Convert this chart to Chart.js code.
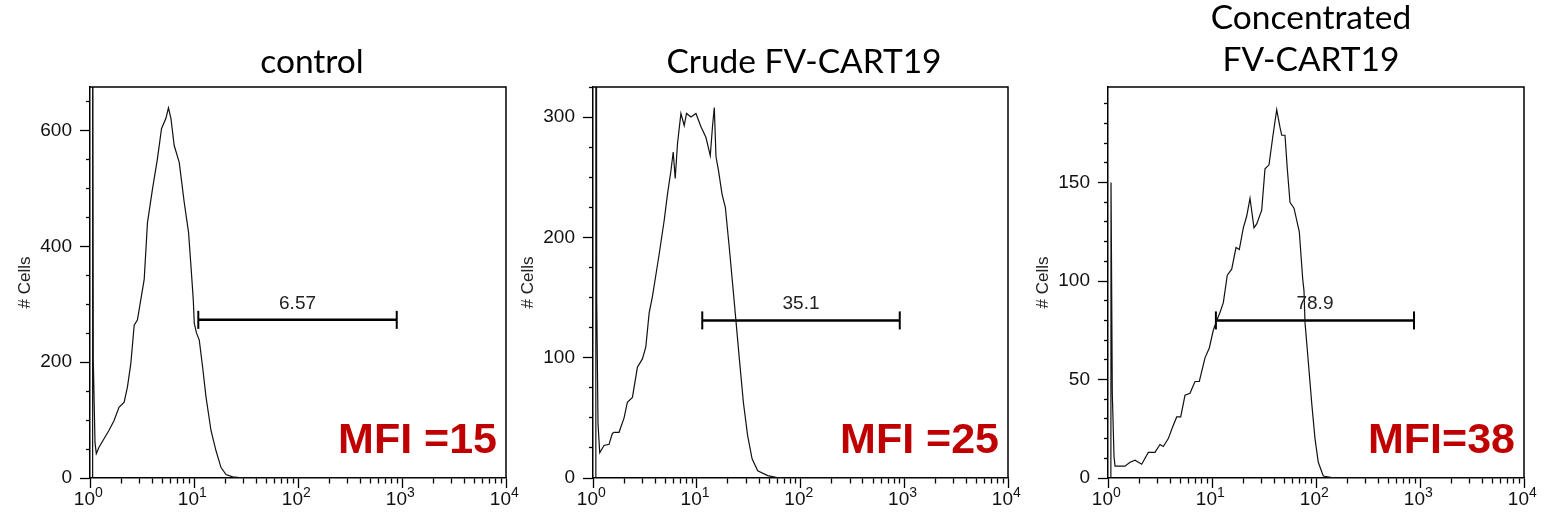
<!DOCTYPE html>
<html><head><meta charset="utf-8">
<script src="https://cdn.jsdelivr.net/npm/chart.js@4.4.0/dist/chart.umd.min.js"></script>
<style>
html,body{margin:0;padding:0;background:#fff;width:1544px;height:524px;overflow:hidden;position:relative;}
canvas{position:absolute;top:0;}
.title{position:absolute;width:500px;text-align:center;font-family:Lato,'Open Sans',sans-serif;font-size:33.5px;color:#000;line-height:42px;white-space:nowrap;}
</style></head><body>
<script>
// ---------- DATA ----------
const panelTitles = [['control'], ['Crude FV-CART19'], ['Concentrated', 'FV-CART19']];

const ctrlX = [1.06, 1.06, 1.076, 1.117, 1.15, 1.22, 1.52, 1.70, 1.90, 2.13, 2.29, 2.47, 2.66, 2.86, 3.08, 3.32, 3.57, 3.99, 4.45, 4.87, 5.37, 5.68, 6.00, 6.45, 7.21, 8.05, 8.86, 9.35, 9.84, 10.06, 10.58, 11.24, 12.09, 13.04, 14.57, 16.28, 18.19, 20.32, 23.53, 30.5, 10000];
const ctrlY = [0, 1000, 203, 61, 42, 53, 82, 99, 122, 131, 157, 198, 264, 273, 308, 343, 441, 499, 551, 603, 621, 639, 621, 574, 545, 476, 424, 366, 308, 267, 250, 238, 192, 140, 82, 47, 18, 6, 2, 0, 0];

const crudeX = [1.065, 1.065, 1.086, 1.118, 1.161, 1.277, 1.428, 1.536, 1.596, 1.783, 1.993, 2.145, 2.398, 2.679, 2.995, 3.229, 3.476, 3.741, 3.972, 4.341, 4.853, 5.224, 5.631, 5.930, 6.199, 6.525, 7.036, 7.572, 7.969, 8.790, 9.824, 10.98, 12.27, 13.50, 14.21, 14.76, 15.33, 16.24, 17.52, 18.86, 20.61, 22.18, 23.91, 25.74, 28.14, 30.96, 34.15, 38.68, 48.32, 62.7, 10000];
const crudeY = [0, 1000, 147, 45, 21, 27, 28, 37, 38, 38, 50, 63, 67, 92, 99, 109, 137, 151, 165, 186, 214, 236, 255, 271, 249, 278, 303, 293, 303, 300, 303, 292, 283, 268, 293, 308, 267, 255, 236, 225, 191, 161, 130, 99, 63, 35, 16, 6, 2, 0, 0];

const concX = [1.066, 1.069, 1.10, 1.142, 1.168, 1.457, 1.627, 1.818, 2.109, 2.441, 2.831, 3.162, 3.402, 3.800, 4.190, 4.577, 5.000, 5.500, 6.143, 6.863, 7.548, 8.564, 9.419, 10.29, 11.10, 11.94, 12.85, 14.03, 15.47, 17.02, 18.30, 20.00, 21.57, 23.20, 25.34, 26.91, 30.06, 32.33, 35.33, 38.35, 41.90, 45.08, 46.81, 50.33, 52.97, 56.23, 61.45, 69.10, 74.49, 76.67, 78.39, 84.33, 90.94, 97.81, 105.2, 117.5, 152, 10000];
const concY = [0, 150, 43, 11, 6, 6, 8, 9, 7, 13, 13, 17, 16, 20, 26, 31, 31, 42, 43, 49, 49, 61, 66, 75, 80, 84, 89, 103, 106, 117, 116, 127, 133, 142, 127, 129, 136, 157, 159, 173, 187, 178, 174, 174, 157, 140, 137, 125, 101, 95, 79, 59, 38, 20, 8, 1, 0, 0];

const gateRanges = [[11, 890], [11.3, 905], [10.9, 876]];
const gateHeights = [273, 131, 80];
const gateLabels = ['6.57', '35.1', '78.9'];
const mfiLabels = ['MFI =15', 'MFI =25', 'MFI=38'];

const xMajorTicks = [1, 10, 100, 1000, 10000];
const xTickBases = ['10', '10', '10', '10', '10'];
const xTickExponents = ['0', '1', '2', '3', '4'];
const yMaxes = [675, 325, 198.5];
const yMinorSteps = [50, 25, 10];
const yLabelSteps = [200, 100, 50];
const yTitle = '# Cells';

// ---------- LAYOUT / STYLE ----------
const panelLayout = [
  {left: 0, plotW: 416, titleX: 312},
  {left: 503, plotW: 415, titleX: 804},
  {left: 1018, plotW: 416, titleX: 1311}
];
const curves = [[ctrlX, ctrlY], [crudeX, crudeY], [concX, concY]];
const FONT = "'Liberation Sans', Arial, sans-serif";

// x tick positions: 1..9 per decade + 10^4
const xTickValues = [];
for (let d = 0; d < 4; d++) for (let m = 1; m <= 9; m++) xTickValues.push(m * xMajorTicks[d]);
xTickValues.push(xMajorTicks[4]);

Chart.defaults.font.family = FONT;

const annot = {
  id: 'annot',
  afterDatasetsDraw(chart, args, opts) {
    const {ctx, chartArea: a, scales} = chart;
    const x = scales.x, y = scales.y;
    ctx.save();
    // top / right frame
    ctx.strokeStyle = '#000'; ctx.lineWidth = 1.5;
    ctx.beginPath(); ctx.moveTo(a.left, a.top); ctx.lineTo(a.right, a.top); ctx.lineTo(a.right, a.bottom); ctx.stroke();
    // gate label
    const x0 = x.getPixelForValue(opts.gate[0]), x1 = x.getPixelForValue(opts.gate[1]);
    const yy = y.getPixelForValue(opts.gateY);
    ctx.fillStyle = '#222'; ctx.font = '19px ' + FONT;
    ctx.textAlign = 'center'; ctx.textBaseline = 'alphabetic';
    ctx.fillText(opts.gateLabel, (x0 + x1) / 2, yy - 11);
    // MFI
    ctx.fillStyle = '#C00000'; ctx.font = 'bold 43px ' + FONT;
    ctx.textAlign = 'right';
    ctx.fillText(opts.mfi, a.right - 9, a.bottom - 25);
    // x tick labels with superscript exponents
    ctx.fillStyle = '#111';
    xMajorTicks.forEach((v, k) => {
      const px = x.getPixelForValue(v);
      ctx.font = '19px ' + FONT; ctx.textAlign = 'right';
      ctx.fillText(xTickBases[k], px + 5, a.bottom + 27);
      ctx.font = '14px ' + FONT; ctx.textAlign = 'left';
      ctx.fillText(xTickExponents[k], px + 5, a.bottom + 19);
    });
    ctx.restore();
  }
};

panelLayout.forEach((L, i) => {
  const W = 90 + L.plotW + 24;
  const cv = document.createElement('canvas');
  cv.width = W; cv.height = 524;
  cv.style.left = L.left + 'px'; cv.style.width = W + 'px'; cv.style.height = '524px';
  document.body.appendChild(cv);

  const t = document.createElement('div');
  t.className = 'title';
  t.style.left = (L.titleX - 250) + 'px';
  t.style.top = (panelTitles[i].length > 1 ? -5 : 39) + 'px';
  t.innerHTML = panelTitles[i].map(s => s.replace(/&/g, '&amp;').replace(/</g, '&lt;')).join('<br>');
  document.body.appendChild(t);

  const [xs, ys] = curves[i];
  const labelStep = yLabelSteps[i];
  new Chart(cv, {
    type: 'line',
    data: {
      datasets: [
        {data: xs.map((v, k) => ({x: v, y: ys[k]})), borderColor: '#111', borderWidth: 1.2, pointRadius: 0, tension: 0, fill: false},
        {data: gateRanges[i].map(v => ({x: v, y: gateHeights[i]})), borderColor: '#000', borderWidth: 2.5,
         pointStyle: 'line', pointRadius: 9, pointRotation: 90, pointBorderWidth: 2, pointBorderColor: '#000', pointBackgroundColor: '#000'}
      ]
    },
    options: {
      responsive: false, animation: false, devicePixelRatio: 1,
      layout: {padding: {left: 0, right: 24, top: 87, bottom: 0}},
      plugins: {legend: {display: false}, tooltip: {enabled: false},
        annot: {gate: gateRanges[i], gateY: gateHeights[i], gateLabel: gateLabels[i], mfi: mfiLabels[i]}},
      scales: {
        x: {
          type: 'logarithmic', min: 1, max: 10000, position: 'bottom',
          afterBuildTicks(s) { s.ticks = xTickValues.map(v => ({value: v, major: xMajorTicks.includes(v)})); },
          afterFit(s) { s.height = 46; },
          border: {display: true, color: '#000', width: 1.5},
          grid: {drawOnChartArea: false, drawTicks: true, tickLength: 10, tickColor: '#000', tickWidth: 1.3,
                 tickBorderDash: [10, 100],
                 tickBorderDashOffset: c => (c.tick && xMajorTicks.includes(c.tick.value)) ? 0 : 5},
          ticks: {display: false, autoSkip: false, maxRotation: 0, minRotation: 0}
        },
        y: {
          type: 'linear', min: 0, max: yMaxes[i], position: 'left',
          afterFit(s) { s.width = 90; },
          border: {display: true, color: '#000', width: 1.5},
          grid: {drawOnChartArea: false, drawTicks: true, tickLength: 10, tickColor: '#000', tickWidth: 1.3,
                 tickBorderDash: [10, 100],
                 tickBorderDashOffset: c => (c.tick && c.tick.value % labelStep === 0) ? 0 : -6},
          ticks: {stepSize: yMinorSteps[i], includeBounds: false, autoSkip: false, padding: 8, color: '#111', font: {size: 19},
                  callback: v => (v % labelStep === 0 ? String(v) : '')},
          title: {display: true, text: yTitle, color: '#222', font: {size: 17}, padding: {top: 15, bottom: 0}}
        }
      }
    },
    plugins: [annot]
  });
});
</script>
</body></html>
